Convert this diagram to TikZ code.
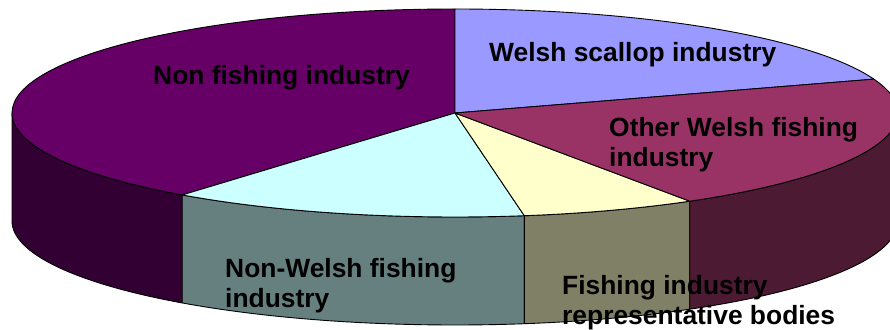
\documentclass[tikz,border=0pt]{standalone}
\usepackage{fontspec}
\setmainfont{Liberation Sans}
\definecolor{nfTop}{HTML}{660066}
\definecolor{nfSide}{HTML}{330033}
\definecolor{wsTop}{HTML}{9999FF}
\definecolor{owTop}{HTML}{993366}
\definecolor{owSide}{HTML}{4D1A33}
\definecolor{rbTop}{HTML}{FFFFCC}
\definecolor{rbSide}{HTML}{808066}
\definecolor{nwTop}{HTML}{CCFFFF}
\definecolor{nwSide}{HTML}{668080}
\tikzset{
  edge/.style={draw=black, line width=0.9pt, line join=round},
  lbl/.style={anchor=base west, align=left, inner sep=0pt,
    font=\bfseries\fontsize{26.4}{30}\selectfont}
}
\begin{document}
\begin{tikzpicture}[x=1pt,y=1pt]
\useasboundingbox (0,0) rectangle (890,329);
\clip (0,0) rectangle (890,329);
\begin{scope}[shift={(455,216)}]
  % sides
  \path[edge, fill=nfSide] (180:443 and 104) arc[start angle=180, end angle=232, x radius=443, y radius=104]
    -- ++(0,-108) arc[start angle=232, end angle=180, x radius=443, y radius=104] -- cycle;
  \path[edge, fill=nwSide] (232:443 and 104) arc[start angle=232, end angle=279, x radius=443, y radius=104]
    -- ++(0,-108) arc[start angle=279, end angle=232, x radius=443, y radius=104] -- cycle;
  \path[edge, fill=rbSide] (279:443 and 104) arc[start angle=279, end angle=302, x radius=443, y radius=104]
    -- ++(0,-108) arc[start angle=302, end angle=279, x radius=443, y radius=104] -- cycle;
  \path[edge, fill=owSide] (302:443 and 104) arc[start angle=302, end angle=360, x radius=443, y radius=104]
    -- ++(0,-108) arc[start angle=360, end angle=302, x radius=443, y radius=104] -- cycle;
  % tops
  \coordinate (c) at (0,0);
  \path[edge, fill=nfTop] (c) -- (90:443 and 104) arc[start angle=90, end angle=232, x radius=443, y radius=104] -- cycle;
  \path[edge, fill=wsTop] (c) -- (19:443 and 104) arc[start angle=19, end angle=90, x radius=443, y radius=104] -- cycle;
  \path[edge, fill=nwTop] (c) -- (232:443 and 104) arc[start angle=232, end angle=279, x radius=443, y radius=104] -- cycle;
  \path[edge, fill=rbTop] (c) -- (279:443 and 104) arc[start angle=279, end angle=302, x radius=443, y radius=104] -- cycle;
  \path[edge, fill=owTop] (c) -- (302:443 and 104) arc[start angle=302, end angle=379, x radius=443, y radius=104] -- cycle;
\end{scope}
\node[lbl] (nf) at (153,244) {Non fishing industry};
\node[lbl] (ws) at (489,267) {Welsh scallop industry};
\node[lbl] (ow) at (609,162) {Other Welsh fishing\\industry};
\node[lbl] (nw) at (225,22) {Non-Welsh fishing\\industry};
\node[lbl] (rb) at (562,5) {Fishing industry\\representative bodies};
\end{tikzpicture}
\end{document}
